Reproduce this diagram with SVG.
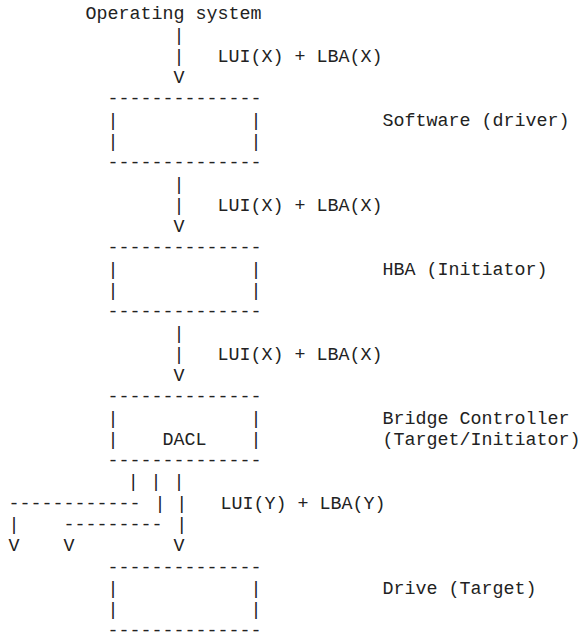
<svg xmlns="http://www.w3.org/2000/svg" width="585" height="634" viewBox="0 0 585 634">
<style>
text{font-family:"Liberation Mono","Courier New",monospace;font-size:18.33px;fill:#222;white-space:pre}
</style>
<rect width="585" height="634" fill="#fff"/>
<g id="os"><text x="85.5" y="19.3">Operating system</text></g>
<g id="software">
<text x="107.5" y="104.42">--------------</text>
<text x="107.5" y="125.7" xml:space="preserve">|            |</text>
<text x="107.5" y="146.98" xml:space="preserve">|            |</text>
<text x="107.5" y="168.26">--------------</text>
<text x="382.5" y="125.7">Software (driver)</text>
</g>
<g id="hba">
<text x="107.5" y="253.38">--------------</text>
<text x="107.5" y="274.66" xml:space="preserve">|            |</text>
<text x="107.5" y="295.94" xml:space="preserve">|            |</text>
<text x="107.5" y="317.22">--------------</text>
<text x="382.5" y="274.66">HBA (Initiator)</text>
</g>
<g id="bridge">
<text x="107.5" y="402.34">--------------</text>
<text x="107.5" y="423.62" xml:space="preserve">|            |</text>
<text x="107.5" y="444.9" xml:space="preserve">|    DACL    |</text>
<text x="107.5" y="466.18">--------------</text>
<text x="382.5" y="423.62">Bridge Controller</text>
<text x="382.5" y="444.9">(Target/Initiator)</text>
</g>
<g id="drive">
<text x="107.5" y="572.58">--------------</text>
<text x="107.5" y="593.86" xml:space="preserve">|            |</text>
<text x="107.5" y="615.14" xml:space="preserve">|            |</text>
<text x="107.5" y="636.42">--------------</text>
<text x="382.5" y="593.86">Drive (Target)</text>
</g>
<g id="connectors">
<text x="173.5" y="40.58">|</text>
<text x="173.5" y="61.86">|</text>
<text x="217.5" y="61.86">LUI(X) + LBA(X)</text>
<text x="173.5" y="83.14">V</text>
<text x="173.5" y="189.54">|</text>
<text x="173.5" y="210.82">|</text>
<text x="217.5" y="210.82">LUI(X) + LBA(X)</text>
<text x="173.5" y="232.1">V</text>
<text x="173.5" y="338.5">|</text>
<text x="173.5" y="359.78">|</text>
<text x="217.5" y="359.78">LUI(X) + LBA(X)</text>
<text x="173.5" y="381.06">V</text>
<text x="127.8" y="487.46">|</text>
<text x="150.5" y="487.46">|</text>
<text x="173.5" y="487.46">|</text>
<text x="8.5" y="508.74">------------</text>
<text x="154.5" y="508.74">|</text>
<text x="176.2" y="508.74">|</text>
<text x="220.5" y="508.74">LUI(Y) + LBA(Y)</text>
<text x="8.5" y="530.02">|</text>
<text x="63.5" y="530.02">---------</text>
<text x="176.2" y="530.02">|</text>
<text x="8.5" y="551.3">V</text>
<text x="63.5" y="551.3">V</text>
<text x="173.5" y="551.3">V</text>
</g>
</svg>
